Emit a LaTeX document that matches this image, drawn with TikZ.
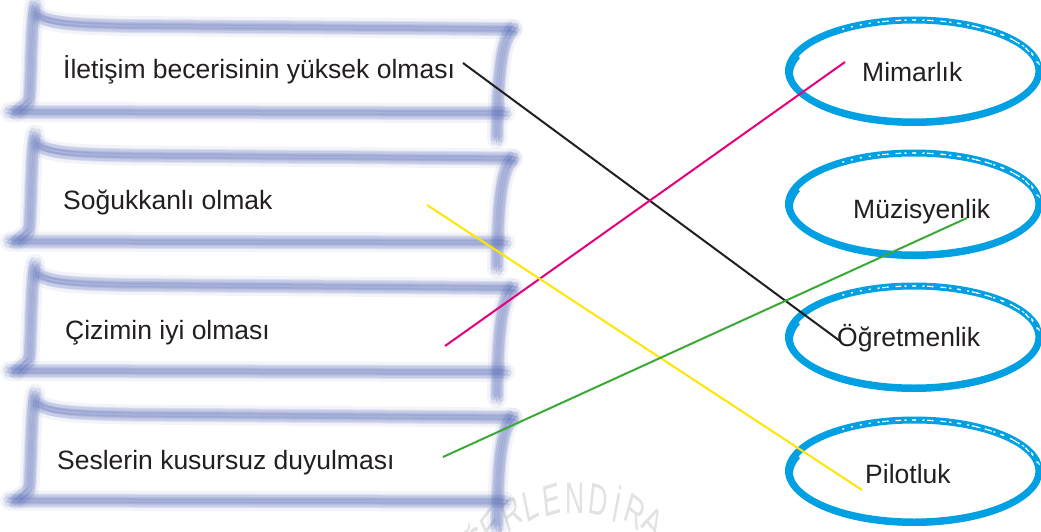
\documentclass[tikz,border=0pt]{standalone}
\usepackage{fontspec}
\setmainfont{Liberation Sans}
\usetikzlibrary{calc}
\definecolor{boxblue}{RGB}{88,108,184}
\definecolor{ovalcyan}{RGB}{0,160,227}
\definecolor{txt}{RGB}{35,31,32}
\definecolor{mag}{RGB}{230,0,126}
\definecolor{ylw}{RGB}{255,230,0}
\definecolor{grn}{RGB}{58,170,53}
\definecolor{wmgray}{RGB}{226,226,226}
\newcommand\brushpaths[2]{%
   \draw[#2] (35,#1-22) .. controls (31,#1-5) and (31,#1+60) .. (29,#1+75) -- (18,#1+84);
   \draw[#2] (38,#1-12) .. controls (48,#1-3) and (80,#1-2) .. (130,#1-1) -- (512,#1+2);
   \draw[#2] (513,#1+2) .. controls (502,#1+12) and (498,#1+40) .. (497,#1+112);
   \draw[#2] (10,#1+85) -- (505,#1+86);}
\newcommand\brushbox[1]{%
 \brushpaths{#1}{brushwide}
 \foreach \dx/\dy in {0/0,3/-3,-3/3,2/4,-2/-4,4/1,-4/-1}{%
  \begin{scope}[shift={(\dx,\dy)}]
   \brushpaths{#1}{brush}
  \end{scope}}}
\newcommand\brushoval[1]{%
  \draw[ovalcyan, line width=7pt] (914,#1) ellipse [x radius=125, y radius=51];
  \draw[ovalcyan, line width=4pt] plot[domain=15:200, samples=60] ({914+123*cos(\x)},{#1+3+50*sin(\x)});
  \draw[ovalcyan, line width=2pt] plot[domain=150:260, samples=40] ({914+128*cos(\x)},{#1+52*sin(\x)});
  \draw[white, line width=1.4pt, dash pattern=on 2pt off 7pt] plot[domain=-125:-5, samples=60] ({914+125*cos(\x)},{#1+51*sin(\x)});
  \draw[white, line width=1.2pt, dash pattern=on 4pt off 11pt] plot[domain=-105:-15, samples=60] ({914+123*cos(\x)},{#1-2+49*sin(\x)});
  \draw[white, line width=1pt, dash pattern=on 3pt off 9pt] plot[domain=-60:-2, samples=40] ({914+127*cos(\x)},{#1+2+53*sin(\x)});
}
\begin{document}
\begin{tikzpicture}[x=1pt,y=-1pt,
  lbl/.style={font=\fontsize{26.5}{30}\selectfont, text=txt, inner sep=0pt, anchor=base west},
  wm/.style={font=\fontsize{44}{46}\selectfont, text=wmgray, inner sep=0pt, xscale=0.6},
  brush/.style={draw=boxblue, line width=6pt, opacity=0.15, line cap=round, line join=round},
  brushwide/.style={draw=boxblue, line width=20pt, opacity=0.07, line cap=round, line join=round},
  conn/.style={line width=2pt}]
\useasboundingbox (0,0) rectangle (1041,532);
\fill[white] (0,0) rectangle (1041,532);
\begin{scope}
\clip (0,0) rectangle (1041,532);
\foreach \ch/\a [count=\i] in {Ğ/-47, E/-38, R/-28, L/-19, E/-10, N/0, D/10, İ/18, R/26, A/35}
  \node[wm, rotate=-\a] (wm\i) at ({575+136*sin(\a)},{634-136*cos(\a)}) {\ch};
\end{scope}
% boxes
\brushbox{27}
\brushbox{156.5}
\brushbox{286}
\brushbox{415.5}
% ovals
\brushoval{71}
\brushoval{204}
\brushoval{337}
\brushoval{471}
% left texts
\node[lbl] (l1) at (63,79) {İletişim becerisinin yüksek olması};
\node[lbl] (l2) at (63,209) {Soğukkanlı olmak};
\node[lbl] (l3) at (65,339) {Çizimin iyi olması};
\node[lbl] (l4) at (57,469) {Seslerin kusursuz duyulması};
% right texts
\node[lbl] (r1) at (862,82) {Mimarlık};
\node[lbl] (r2) at (853,218) {Müzisyenlik};
\node[lbl] (r3) at (837,346) {Öğretmenlik};
\node[lbl] (r4) at (865,483) {Pilotluk};
% connector ends
\coordinate (a1) at (463,63);
\coordinate (a2) at (427,205);
\coordinate (a3) at (445,346);
\coordinate (a4) at (443,457);
\coordinate (b1) at (845,62);
\coordinate (b2) at (967,218);
\coordinate (b3) at (840,341);
\coordinate (b4) at (862,490);
\draw[conn, txt] (a1) -- (b3);
\draw[conn, mag] (a3) -- (b1);
\draw[conn, ylw] (a2) -- (b4);
\draw[conn, grn] (a4) -- (b2);
\end{tikzpicture}
\end{document}
